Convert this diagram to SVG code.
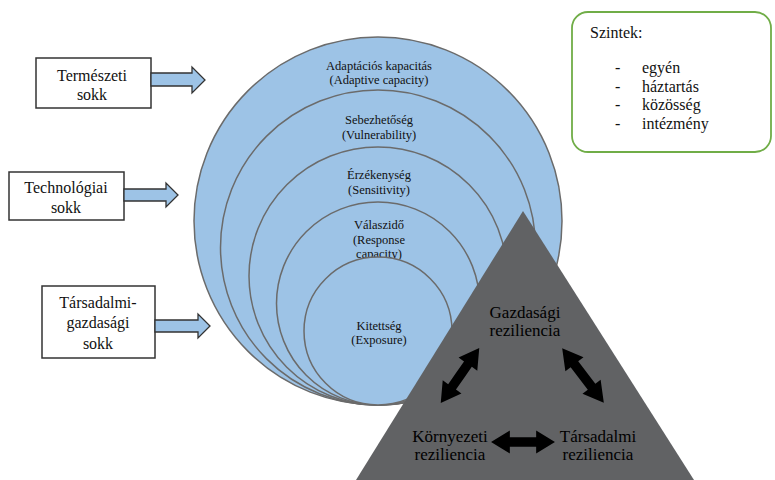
<svg xmlns="http://www.w3.org/2000/svg" width="775" height="480" viewBox="0 0 775 480">
<style>
text{font-family:'Liberation Serif','DejaVu Serif',serif}
.c{fill:#9DC3E6;stroke:#6b6b6b;stroke-width:1.5}
.cl{font-size:12.5px;fill:#111;text-anchor:middle}
.box{fill:#fff;stroke:#333;stroke-width:1.5}
.bt{font-size:16px;fill:#111;text-anchor:middle}
.ba{fill:#9DC3E6;stroke:#333;stroke-width:1.3;stroke-linejoin:miter}
.tt{font-size:17px;fill:#000;text-anchor:middle}
.da{fill:#000}
.st{font-size:16px;fill:#111}
</style>
<rect width="775" height="480" fill="#fff"/>
<g id="circles">
<g id="adaptive"><circle class="c" cx="378" cy="221" r="184"/><text class="cl" x="379" y="70">Adaptációs kapacitás</text><text class="cl" x="379" y="84">(Adaptive capacity)</text></g>
<g id="vulnerability"><circle class="c" cx="378" cy="247.5" r="157.5"/><text class="cl" x="379" y="124">Sebezhetőség</text><text class="cl" x="379" y="139">(Vulnerability)</text></g>
<g id="sensitivity"><circle class="c" cx="378" cy="276" r="129"/><text class="cl" x="379" y="179">Érzékenység</text><text class="cl" x="379" y="194">(Sensitivity)</text></g>
<g id="response"><circle class="c" cx="378" cy="303.5" r="101.5"/><text class="cl" x="379" y="229">Válaszidő</text><text class="cl" x="379" y="244">(Response</text><text class="cl" x="379" y="258">capacity)</text></g>
<g id="exposure"><circle class="c" cx="378" cy="331" r="74"/><text class="cl" x="379" y="330">Kitettség</text><text class="cl" x="379" y="344">(Exposure)</text></g>
</g>
<g id="shock-natural"><rect class="box" x="36" y="58" width="115" height="50"/><text class="bt" x="92" y="81">Természeti</text><text class="bt" x="92" y="100">sokk</text></g>
<g id="shock-tech"><rect class="box" x="9" y="172" width="115" height="48"/><text class="bt" x="66" y="193">Technológiai</text><text class="bt" x="66" y="213">sokk</text></g>
<g id="shock-socio"><rect class="box" x="42" y="286" width="113" height="72"/><text class="bt" x="98" y="308">Társadalmi-</text><text class="bt" x="98" y="328">gazdasági</text><text class="bt" x="98" y="349">sokk</text></g>
<g id="triangle"><polygon points="523,211 356,480 694,480" fill="#616264"/></g>
<g id="economic"><text class="tt" x="525" y="318">Gazdasági</text><text class="tt" x="525" y="336">reziliencia</text></g>
<g id="environmental"><text class="tt" x="450" y="442">Környezeti</text><text class="tt" x="450" y="460">reziliencia</text></g>
<g id="social"><text class="tt" x="598" y="442">Társadalmi</text><text class="tt" x="598" y="460">reziliencia</text></g>
<g id="levels"><rect x="572" y="12" width="199" height="140" rx="16" ry="16" fill="#fff" stroke="#70AD47" stroke-width="1.8"/>
<text class="st" x="590" y="38">Szintek:</text>
<text class="st" x="615" y="73">-</text><text class="st" x="642" y="73">egyén</text>
<text class="st" x="615" y="92">-</text><text class="st" x="642" y="92">háztartás</text>
<text class="st" x="615" y="110">-</text><text class="st" x="642" y="110">közösség</text>
<text class="st" x="615" y="129">-</text><text class="st" x="642" y="129">intézmény</text>
</g>
<g id="connectors">
<polygon class="ba" points="151,73 192,73 192,67 205,80 192,93 192,86 151,86"/>
<polygon class="ba" points="124,189 166,189 166,183 178,195 166,207 166,201 124,201"/>
<polygon class="ba" points="155,320 198,320 198,314 210,326 198,338 198,332 155,332"/>
<polygon class="da" points="0,-5 14,-5 14,-12 34,0 14,12 14,5 0,5 -14,5 -14,12 -34,0 -14,-12 -14,-5" transform="translate(460,375.5) rotate(-55.1) scale(0.99,0.95)"/>
<polygon class="da" points="0,-5 14,-5 14,-12 34,0 14,12 14,5 0,5 -14,5 -14,12 -34,0 -14,-12 -14,-5" transform="translate(583,375.5) rotate(52.7) scale(1.01,0.95)"/>
<polygon class="da" points="0,-5 14,-5 14,-12 34,0 14,12 14,5 0,5 -14,5 -14,12 -34,0 -14,-12 -14,-5" transform="translate(523,442) scale(0.94,0.95)"/>
</g>
</svg>
